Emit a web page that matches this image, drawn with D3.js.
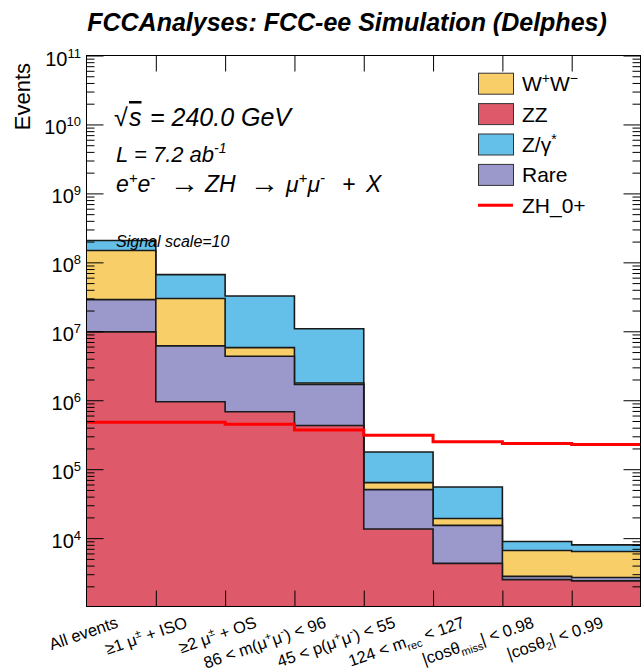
<!DOCTYPE html>
<html>
<head>
<meta charset="utf-8">
<script src="https://cdn.jsdelivr.net/npm/d3@7"></script>
<style>
  body { margin: 0; background: #fff; }
  text { font-family: "Liberation Sans", Arial, Helvetica, sans-serif; fill: #000; }
</style>
</head>
<body>
<script>
// cut-flow bins (x categories), "^{}" = superscript, "_{}" = subscript
const categories = ["All events", "≥1 μ^{±} + ISO", "≥2 μ^{±} + OS", "86 < m(μ^{+}μ^{-}) < 96",
  "45 < p(μ^{+}μ^{-}) < 55", "124 < m_{rec} < 127", "|cosθ_{miss}| < 0.98", "|cosθ_{2}| < 0.99"];

// backgrounds, events per bin
const zz   = [9.8e6, 9.5e5, 6.8e5, 4.3e5, 1.36e4, 4.3e3, 2.5e3, 2.4e3];
const rare = [1.9e7, 5.2e6, 3.66e6, 1.26e6, 3.7e4, 1.1e4, 290, 290];
const ww   = [1.2e8, 2.37e7, 1.46e6, 9.0e4, 1.33e4, 4.0e3, 3.83e3, 3.72e3];
const zg   = [5.9e7, 3.66e7, 2.67e7, 9.1e6, 1.14e5, 3.6e4, 2.32e3, 1.59e3];
// signal ZH_0+ (x10)
const signal = [4.8e5, 4.8e5, 4.5e5, 3.7e5, 3.1e5, 2.5e5, 2.36e5, 2.28e5];

const yExps = [4, 5, 6, 7, 8, 9, 10, 11];

const legendNames = ["W^{+}W^{−}", "ZZ", "Z/γ^{*}", "Rare", "ZH_0+"];
const colors = {ww: "#f8ce68", zz: "#de5a6a", zg: "#64c0e8", rare: "#9b98cc", sig: "#ff0000"};

const W = 641, H = 671;
const L = 86.5, R = 641, T = 55.5, B = 606.5;
const n = categories.length;

const svg = d3.select("body").append("svg").attr("width", W).attr("height", H);

const x = d3.scaleLinear().domain([0, n]).range([L, R]);
const y = d3.scaleLog().domain([1.02e3, 1e11]).range([B, T]).clamp(true);

// tiny latex-ish: ^{..} and _{..}
function rich(text, str, size) {
  const re = /([\^_])\{([^}]*)\}/g;
  let last = 0, m, shift = 0;
  const small = Math.round(size * 0.65);
  const add = (t, fs, dy) => {
    if (!t) return;
    text.append("tspan").attr("font-size", fs).attr("dy", dy).text(t);
  };
  while ((m = re.exec(str)) !== null) {
    add(str.slice(last, m.index), size, -shift); shift = 0;
    const up = m[1] === "^" ? -size * 0.4 : size * 0.25;
    text.append("tspan").attr("font-size", small).attr("dy", up).text(m[2]);
    shift = up;
    last = re.lastIndex;
  }
  const rest = str.slice(last);
  if (rest) add(rest, size, -shift);
  return text;
}

// stacked histograms
const table = categories.map((c, i) => ({cat: c, zz: zz[i], rare: rare[i], ww: ww[i], zg: zg[i]}));
const stack = d3.stack().keys(["zz", "rare", "ww", "zg"])(table);

const stepPts = vals => d3.range(n + 1).map(i => ({x: x(i), v: vals[Math.min(i, n - 1)]}));
const area = d3.area().x(d => d.x).y0(B).y1(d => y(d.v)).curve(d3.curveStepAfter);
const line = d3.line().x(d => d.x).y(d => y(d.v)).curve(d3.curveStepAfter);

const gh = svg.append("g");
stack.slice().reverse().forEach(layer => {
  const pts = stepPts(layer.map(d => d[1]));
  gh.append("path").attr("d", area(pts)).attr("fill", colors[layer.key]);
  gh.append("path").attr("d", line(pts)).attr("fill", "none")
    .attr("stroke", "#1a1a1a").attr("stroke-width", 1.6);
});

// signal
gh.append("path").attr("d", line(stepPts(signal))).attr("fill", "none")
  .attr("stroke", colors.sig).attr("stroke-width", 3);

// axes (ticks inside the frame)
const yMajor = yExps.map(e => Math.pow(10, e));
const yMinor = [];
for (let e = 3; e < 11; e++) for (let k = 2; k <= 9; k++) {
  const v = k * Math.pow(10, e);
  if (v > y.domain()[0]) yMinor.push(v);
}
const noDomain = g => g.select(".domain").remove();
const axes = svg.append("g");
axes.append("g").attr("transform", `translate(${L},0)`)
  .call(d3.axisLeft(y).tickValues(yMajor).tickSize(-17).tickFormat("")).call(noDomain);
axes.append("g").attr("transform", `translate(${L},0)`)
  .call(d3.axisLeft(y).tickValues(yMinor).tickSize(-8).tickFormat("")).call(noDomain);
axes.append("g").attr("transform", `translate(${W - 0.5},0)`)
  .call(d3.axisRight(y).tickValues(yMajor).tickSize(-17).tickFormat("")).call(noDomain);
axes.append("g").attr("transform", `translate(${W - 0.5},0)`)
  .call(d3.axisRight(y).tickValues(yMinor).tickSize(-8).tickFormat("")).call(noDomain);
axes.append("g").attr("transform", `translate(0,${T})`)
  .call(d3.axisTop(x).tickValues(d3.range(1, n)).tickSize(-16).tickFormat("")).call(noDomain);
axes.append("g").attr("transform", `translate(0,${B})`)
  .call(d3.axisBottom(x).tickValues(d3.range(1, n)).tickSize(-16).tickFormat("")).call(noDomain);

svg.append("rect").attr("x", L).attr("y", T).attr("width", W - 0.5 - L).attr("height", B - T)
  .attr("fill", "none").attr("stroke", "#000").attr("stroke-width", 1);

// y tick labels 10^n
yExps.forEach(e => {
  const t = svg.append("text").attr("x", 81).attr("y", y(Math.pow(10, e)) + 10)
    .attr("text-anchor", "end");
  t.append("tspan").attr("font-size", 20).text("10");
  t.append("tspan").attr("font-size", 13).attr("dy", -8).text(e);
});

svg.append("text").attr("transform", "translate(30,63) rotate(-90)")
  .attr("text-anchor", "end").attr("font-size", 22).text("Events");

// x labels
categories.forEach((c, i) => {
  const t = svg.append("text")
    .attr("transform", `translate(${x(i + 0.5) - 2},627) rotate(-19)`)
    .attr("text-anchor", "end");
  rich(t, c, 16.5);
});

// title
svg.append("text").attr("x", 347).attr("y", 31).attr("text-anchor", "middle")
  .attr("font-size", 25).attr("font-weight", "bold").attr("font-style", "italic")
  .text("FCCAnalyses: FCC-ee Simulation (Delphes)");

// info text
const info = svg.append("g").attr("font-style", "italic");
const t1 = info.append("text").attr("y", 126).attr("font-size", 25);
t1.append("tspan").attr("x", 114).text("√");
t1.append("tspan").attr("x", 129).attr("text-decoration", "overline").text("s");
t1.append("tspan").attr("x", 150).text("=");
t1.append("tspan").attr("x", 171.5).text("240.0 GeV");

rich(info.append("text").attr("x", 116).attr("y", 162), "L = 7.2 ab^{-1}", 22);

const line3 = [["e^{+}e^{-}", 116], ["→", 170, 1], ["ZH", 205], ["→", 250, 1],
  ["μ^{+}μ^{-}", 286], ["+", 342], ["X", 366]];
line3.forEach(([s, px, arrow]) => {
  const t = info.append("text").attr("x", px).attr("y", 192);
  if (arrow) t.attr("font-style", "normal").attr("font-size", 29).attr("dy", 1).text(s);
  else rich(t, s, 23);
});

info.append("text").attr("x", 116).attr("y", 247)
  .attr("font-size", 16).text("Signal scale=10");

// legend
const legKeys = ["ww", "zz", "zg", "rare", "sig"];
const leg = svg.append("g");
legKeys.forEach((k, i) => {
  const cy = 83.7 + i * 30.4;
  if (k === "sig") {
    leg.append("line").attr("x1", 478).attr("x2", 513).attr("y1", cy).attr("y2", cy)
      .attr("stroke", colors.sig).attr("stroke-width", 3);
  } else {
    leg.append("rect").attr("x", 478.5).attr("y", cy - 10.5).attr("width", 35).attr("height", 21)
      .attr("fill", colors[k]).attr("stroke", "#333").attr("stroke-width", 1);
  }
  rich(leg.append("text").attr("x", 522).attr("y", cy + 7.5), legendNames[i], 21);
});
</script>
</body>
</html>
